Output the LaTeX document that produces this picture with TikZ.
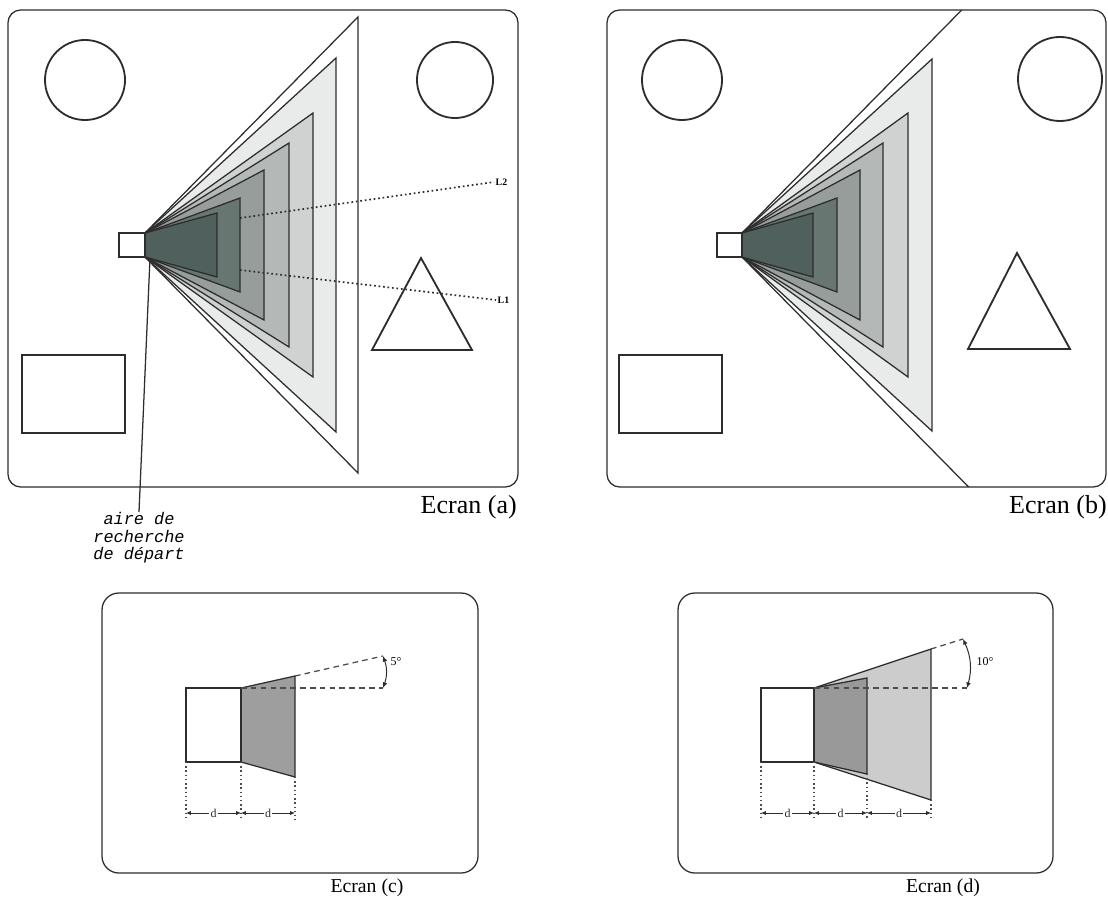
\documentclass[tikz,border=0pt]{standalone}
\usepackage{fontspec}
\setmainfont{Liberation Serif}
\setmonofont{Liberation Mono}
\usetikzlibrary{positioning,arrows.meta,calc}

\definecolor{ink}{RGB}{45,45,45}
\definecolor{fanB}{RGB}{233,235,234}
\definecolor{fanC}{RGB}{207,210,209}
\definecolor{fanD}{RGB}{180,185,183}
\definecolor{fanE}{RGB}{150,157,155}
\definecolor{fanF}{RGB}{104,118,114}
\definecolor{fanG}{RGB}{80,96,92}

\begin{document}
\begin{tikzpicture}[
  x=0.025cm, y=-0.025cm,
  screen/.style={draw=ink, line width=0.9pt, rounded corners=9pt},
  objet/.style={draw=ink, line width=1.3pt},
  fan/.style={draw=ink, line width=0.9pt},
  bloc/.style={draw=ink, line width=1.8pt, fill=white},
  sight/.style={draw=ink, dotted, line width=1.2pt},
  guide/.style={draw=ink!85, dash pattern=on 4pt off 3pt, line width=0.9pt},
  ext/.style={draw=ink!85, dotted, line width=1pt},
  dim/.style={{Latex[length=1.2mm,width=1mm]}-{Latex[length=1.2mm,width=1mm]}, ink, line width=0.5pt},
  turn/.style={{Latex[length=1.4mm,width=1.2mm]}-{Latex[length=1.4mm,width=1.2mm]}, ink, line width=0.7pt},
  caption/.style={font=\fontsize{18.5}{20}\selectfont, inner sep=0pt},
  subcap/.style={font=\fontsize{14}{16}\selectfont, inner sep=0pt},
  tag/.style={font=\fontsize{7}{8}\selectfont\bfseries, inner sep=1pt},
  small/.style={font=\fontsize{8.5}{9}\selectfont, inner sep=1pt},
  search/.style={font=\fontsize{12}{12.6}\selectfont\ttfamily\itshape, align=center, inner sep=0pt}
]
\useasboundingbox (0,0) rectangle (1108,912);

% Ecran (a)
\draw[screen] (8,10) rectangle (518,487);
\draw[objet] (85,80) circle[radius=1cm];
\draw[objet] (455,80) circle[radius=0.95cm];
\draw[objet] (421,258) -- (472,350) -- (372,350) -- cycle;
\draw[objet] (22,355) rectangle (125,433);
\foreach \dx/\hh/\col in {213/228/white, 191/187/fanB, 168/132/fanC, 144/102/fanD, 119/75/fanE, 95/47/fanF, 72/32/fanG}
  \draw[fan, fill=\col] (145,233) -- (145+\dx,245-\hh) -- (145+\dx,245+\hh) -- (145,257) -- cycle;
\draw[objet, fill=white] (119,233) rectangle (145,257);
\coordinate (aL2s) at (240,218);
\coordinate (aL1s) at (240,270);
\node[tag, anchor=west] (aL2) at (494,182) {L2};
\node[tag, anchor=west] (aL1) at (496,300) {L1};
\draw[sight] (aL2s) -- (aL2.west);
\draw[sight] (aL1s) -- (aL1.west);
\coordinate (aFoot) at (150,258);
\node[search, anchor=north] (aire) at (139,512) {aire de\\recherche\\de départ};
\draw[ink, line width=0.9pt] (aFoot) -- (aire.north);
\node[caption, anchor=north east] (capA) at (517,495) {Ecran (a)};

% Ecran (b)
\begin{scope}
  \clip[rounded corners=9pt] (607,10) rectangle (1106,487);
  \draw[fan, fill=white] (742,233) -- (1142,-173) -- (1142,663) -- (742,257) -- cycle;
\end{scope}
\foreach \dx/\hh/\col in {190/186/fanB, 166/132/fanC, 141/102/fanD, 118/75/fanE, 95/47/fanF, 71/32/fanG}
  \draw[fan, fill=\col] (742,233) -- (742+\dx,245-\hh) -- (742+\dx,245+\hh) -- (742,257) -- cycle;
\draw[screen] (607,10) rectangle (1106,487);
\draw[objet] (682,80) circle[radius=1cm];
\draw[objet] (1060,79) circle[radius=1.05cm];
\draw[objet] (1017,253) -- (1070,349) -- (968,349) -- cycle;
\draw[objet] (619,355) rectangle (722,433);
\draw[objet, fill=white] (717,233) rectangle (742,257);
\node[caption, anchor=north east] (capB) at (1107,495) {Ecran (b)};

% Ecran (c)
\draw[screen, rounded corners=12pt] (102,593) rectangle (478,873);
\draw[fan, fill=black!38] (241,688) -- (295,676) -- (295,777) -- (241,762) -- cycle;
\draw[bloc] (186,688) rectangle (241,762);
\coordinate (cTop) at (295,676);
\coordinate (cTip) at (383,656);
\coordinate (cOrg) at (241,688);
\coordinate (cBase) at (383,688);
\draw[guide] (cOrg) -- (cBase);
\draw[guide] (cTop) -- (cTip);
\draw[turn] (cTip) to[bend left=20] (cBase);
\node[small, anchor=west] (cAng) at (389,662) {5°};
\foreach \n/\x/\y in {c1/186/762, c2/241/762, c3/295/777} {
  \coordinate (\n) at (\x,\y);
  \coordinate (\n e) at (\x,820);
  \coordinate (\n m) at (\x,813);
  \draw[ext] (\n) -- (\n e);
}
\draw[dim] (c1m) -- node[small, fill=white] {d} (c2m);
\draw[dim] (c2m) -- node[small, fill=white] {d} (c3m);
\node[subcap, anchor=north] (capC) at (367,879) {Ecran (c)};

% Ecran (d)
\draw[screen, rounded corners=12pt] (678,593) rectangle (1053,873);
\draw[fan, fill=black!20] (814,688) -- (931,649) -- (931,800) -- (814,762) -- cycle;
\draw[fan, fill=black!40] (814,688) -- (867,678) -- (867,774) -- (814,762) -- cycle;
\draw[bloc] (761,688) rectangle (814,762);
\coordinate (dTop) at (931,649);
\coordinate (dTip) at (963,639);
\coordinate (dOrg) at (814,688);
\coordinate (dBase) at (967,688);
\draw[guide] (dOrg) -- (dBase);
\draw[guide] (dTop) -- (dTip);
\draw[turn] (dTip) to[bend left=20] (dBase);
\node[small, anchor=west] (dAng) at (975,662) {10°};
\foreach \n/\x/\y in {d1/761/762, d2/814/762, d3/867/774, d4/931/800} {
  \coordinate (\n) at (\x,\y);
  \coordinate (\n e) at (\x,820);
  \coordinate (\n m) at (\x,813);
  \draw[ext] (\n) -- (\n e);
}
\draw[dim] (d1m) -- node[small, fill=white] {d} (d2m);
\draw[dim] (d2m) -- node[small, fill=white] {d} (d3m);
\draw[dim] (d3m) -- node[small, fill=white] {d} (d4m);
\node[subcap, anchor=north] (capD) at (943,879) {Ecran (d)};
\end{tikzpicture}
\end{document}
